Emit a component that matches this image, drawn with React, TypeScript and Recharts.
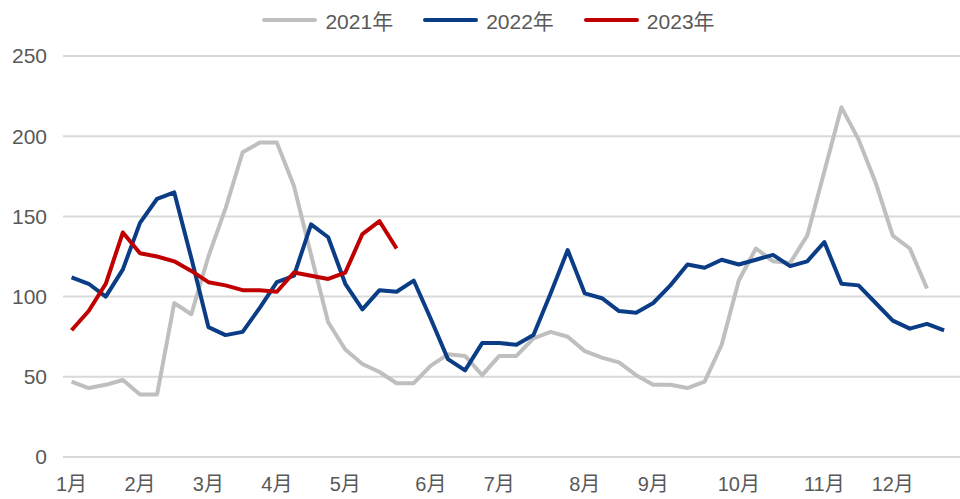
import React from 'react';
import { LineChart, Line, XAxis, YAxis, CartesianGrid, Legend } from 'recharts';

const series2021: (number | null)[] = [47, 43, 45, 48, 39, 39, 96, 89, 125, 155, 190, 196, 196, 169, 126, 84, 67, 58, 53, 46, 46, 57, 64, 63, 51, 63, 63, 74, 78, 75, 66, 62, 59, 51, 45, 45, 43, 47, 70, 110, 130, 122, 121, 138, 178, 218, 198, 171, 138, 130, 105, null];
const series2022: (number | null)[] = [112, 108, 100, 117, 146, 161, 165, 124, 81, 76, 78, 93, 109, 113, 145, 137, 108, 92, 104, 103, 110, 86, 61, 54, 71, 71, 70, 76, 102, 129, 102, 99, 91, 90, 96, 107, 120, 118, 123, 120, 123, 126, 119, 122, 134, 108, 107, 96, 85, 80, 83, 79];
const series2023: (number | null)[] = [79, 91, 108, 140, 127, 125, 122, 116, 109, 107, 104, 104, 103, 115, 113, 111, 115, 139, 147, 130];

const monthLabels = ['1月', '2月', '3月', '4月', '5月', '6月', '7月', '8月', '9月', '10月', '11月', '12月'];
const monthWeekIndex = [0, 4, 8, 12, 16, 21, 25, 30, 34, 39, 44, 48];
const yTicks = [0, 50, 100, 150, 200, 250];

const seriesNames = ['2021年', '2022年', '2023年'];
const seriesColors = ['#BFBFBF', '#0A3D86', '#C00000'];

const data = series2022.map((_, i) => ({
  week: i,
  y2021: series2021[i] ?? null,
  y2022: series2022[i] ?? null,
  y2023: series2023[i] ?? null,
}));

const FONT = '"Liberation Sans", "Noto Sans CJK SC", sans-serif';
const TEXT = '#595959';

const LegendContent = () => (
  <div style={{ display: 'flex', justifyContent: 'center', alignItems: 'center', paddingLeft: 17, fontFamily: FONT, fontSize: 21, color: TEXT }}>
    {seriesNames.map((n, i) => (
      <div key={n} style={{ display: 'flex', alignItems: 'center', marginRight: i < 2 ? 30 : 0 }}>
        <svg width={55} height={8} style={{ marginRight: 8 }}>
          <line x1={2} y1={4} x2={53} y2={4} stroke={seriesColors[i]} strokeWidth={4} strokeLinecap="round" />
        </svg>
        <span>{n}</span>
      </div>
    ))}
  </div>
);

export default function App() {
  return (
    <div style={{ position: 'absolute', left: 0, top: 0, width: 960, height: 499, background: '#fff' }}>
      <LineChart width={960} height={499} data={data} margin={{ top: 56, right: 0, bottom: 12, left: 0 }}>
        <CartesianGrid vertical={false} stroke="#D9D9D9" strokeWidth={2} />
        <XAxis
          type="number"
          dataKey="week"
          domain={[-0.5, 51.93]}
          ticks={monthWeekIndex}
          interval={0}
          tickFormatter={(v: number) => monthLabels[monthWeekIndex.indexOf(v)] ?? ''}
          axisLine={false}
          tickLine={false}
          tickSize={0}
          tickMargin={20}
          height={30}
          tick={{ fill: TEXT, fontSize: 20, fontFamily: FONT }}
          allowDataOverflow
        />
        <YAxis
          domain={[0, 250]}
          ticks={yTicks}
          interval={0}
          axisLine={false}
          tickLine={false}
          tickSize={0}
          tickMargin={16}
          width={63}
          tick={{ fill: TEXT, fontSize: 21, fontFamily: FONT }}
        />
        <Legend verticalAlign="middle" align="center" content={<LegendContent />} wrapperStyle={{ top: 5, left: 0, width: 960 }} />
        <Line type="linear" dataKey="y2021" name={seriesNames[0]} stroke={seriesColors[0]} strokeWidth={4} dot={false} isAnimationActive={false} strokeLinejoin="round" />
        <Line type="linear" dataKey="y2022" name={seriesNames[1]} stroke={seriesColors[1]} strokeWidth={4} dot={false} isAnimationActive={false} strokeLinejoin="round" />
        <Line type="linear" dataKey="y2023" name={seriesNames[2]} stroke={seriesColors[2]} strokeWidth={4} dot={false} isAnimationActive={false} strokeLinejoin="round" />
      </LineChart>
    </div>
  );
}
